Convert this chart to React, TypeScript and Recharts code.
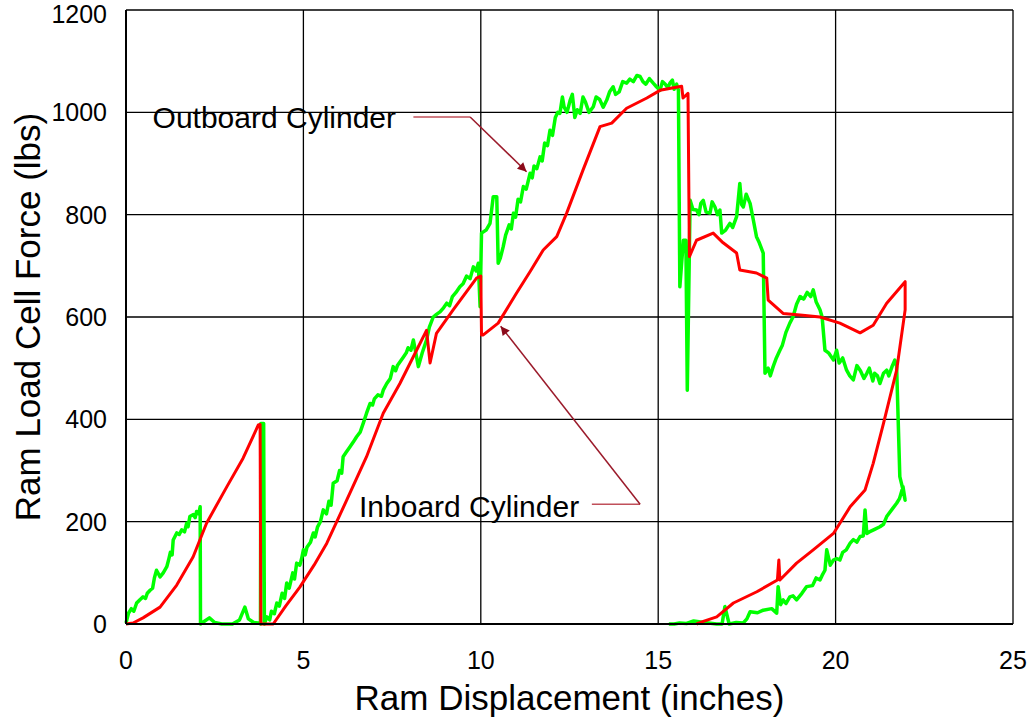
import { LineChart, Line, XAxis, YAxis, CartesianGrid, ReferenceLine, ReferenceDot, Label } from 'recharts';

const xTicks = [0, 5, 10, 15, 20, 25];
const yTicks = [0, 200, 400, 600, 800, 1000, 1200];

// Inboard cylinder (red) – [inches, lbs] traced in drawing order
const inboardPts: [number, number][] = [
  [0, 0], [0.2, 2], [0.48, 12], [0.96, 33], [1.43, 76], [1.89, 131], [2.27, 197], [2.84, 268], [3.3, 324],
  [3.73, 389], [3.78, 390], [3.8, 0], [4.15, 0], [4.5, 35], [4.9, 72], [5.3, 115], [5.66, 158], [6.22, 242],
  [6.78, 327], [7.25, 412], [7.72, 470], [8.19, 535], [8.47, 574], [8.57, 510], [8.75, 568], [9.22, 614],
  [9.88, 676], [10.0, 680], [10.02, 565], [10.07, 565], [10.49, 588], [11.0, 646], [11.4, 690], [11.76, 731],
  [12.14, 757], [12.42, 803], [12.88, 887], [13.36, 972], [13.69, 979], [14.11, 1008], [14.68, 1028],
  [15.05, 1043], [15.66, 1051], [15.7, 1028], [15.84, 1037], [15.88, 718], [16.08, 750], [16.55, 764],
  [16.83, 745], [17.21, 725], [17.3, 692], [17.77, 686], [18.06, 676], [18.1, 633], [18.52, 607], [19.0, 604],
  [19.56, 600], [20.12, 588], [20.69, 569], [21.06, 584], [21.44, 627], [21.96, 669], [21.96, 614],
  [21.72, 496], [21.35, 392], [21.06, 314], [20.83, 262], [20.41, 229], [19.94, 177], [19.37, 145],
  [18.9, 119], [18.43, 86], [18.4, 125], [18.36, 86], [17.78, 63], [17.12, 41], [16.65, 14], [16.27, 5],
  [16.08, 0],
];

// Outboard cylinder (green) – [inches, lbs] traced in drawing order
const outboardPts: [number, number][] = [
  [0, 2], [0.07, 21], [0.15, 30], [0.22, 25], [0.3, 41], [0.4, 48], [0.48, 53], [0.55, 50], [0.6, 60],
  [0.68, 66], [0.75, 70], [0.8, 90], [0.86, 105], [0.96, 92], [1.05, 100], [1.15, 112], [1.2, 125],
  [1.25, 140], [1.3, 135], [1.33, 164], [1.43, 178], [1.5, 175], [1.57, 184], [1.65, 180], [1.71, 197],
  [1.75, 190], [1.8, 210], [1.9, 214], [1.95, 208], [1.99, 220], [2.05, 215], [2.09, 229], [2.1, 0],
  [2.2, 5], [2.35, 12], [2.5, 3], [2.7, 0], [3.0, 0], [3.2, 8], [3.35, 33], [3.45, 10], [3.6, 3], [3.72, 2],
  [3.79, 0], [3.8, 392], [3.88, 392], [3.9, 0],
  [3.97, 14], [4.05, 8], [4.1, 25], [4.18, 20], [4.25, 41], [4.32, 35], [4.4, 60], [4.47, 50], [4.53, 80],
  [4.6, 70], [4.7, 100], [4.75, 88], [4.81, 119], [4.9, 115], [4.95, 128], [5.0, 145], [5.05, 135],
  [5.1, 150], [5.2, 160], [5.28, 178], [5.33, 170], [5.4, 190], [5.48, 200], [5.56, 223], [5.65, 215],
  [5.72, 240], [5.78, 232], [5.84, 275], [5.95, 280], [6.02, 300], [6.08, 295], [6.12, 327], [6.2, 335],
  [6.3, 345], [6.4, 355], [6.5, 366], [6.6, 375], [6.7, 395], [6.78, 412], [6.88, 431], [6.95, 428],
  [7.0, 440], [7.1, 448], [7.2, 445], [7.25, 457], [7.35, 470], [7.45, 480], [7.53, 503], [7.6, 495],
  [7.65, 505], [7.75, 515], [7.82, 522], [7.9, 530], [7.95, 540], [8.03, 535], [8.1, 555], [8.24, 503],
  [8.35, 530], [8.47, 555], [8.55, 580], [8.66, 600], [8.75, 605], [8.85, 610], [8.95, 618], [9.04, 627],
  [9.12, 622], [9.2, 640], [9.3, 648], [9.41, 659], [9.5, 665], [9.6, 680], [9.7, 675], [9.79, 698],
  [9.87, 690], [9.93, 705], [9.98, 620],
  [10.02, 764], [10.15, 770], [10.26, 783], [10.35, 835], [10.45, 835], [10.49, 705], [10.55, 715],
  [10.63, 737], [10.7, 760], [10.8, 780], [10.86, 772], [10.92, 803], [10.98, 795], [11.05, 830],
  [11.12, 825], [11.2, 855], [11.28, 850], [11.39, 881], [11.45, 872], [11.5, 895], [11.58, 890],
  [11.67, 913], [11.73, 905], [11.8, 940], [11.88, 935], [11.95, 965], [12.02, 955], [12.1, 990],
  [12.17, 1000], [12.23, 998], [12.3, 1030], [12.35, 1010], [12.43, 1000], [12.52, 1024], [12.58, 1035],
  [12.65, 990], [12.72, 1005], [12.8, 998], [12.88, 1030], [12.95, 1020], [13.05, 1000], [13.17, 1011],
  [13.25, 1030], [13.35, 1025], [13.45, 1010], [13.55, 1024], [13.63, 1040], [13.73, 1050], [13.8, 1035],
  [13.9, 1040], [14.0, 1060], [14.11, 1057], [14.2, 1065], [14.3, 1060], [14.4, 1072], [14.49, 1070],
  [14.57, 1060], [14.65, 1055], [14.75, 1066], [14.86, 1057], [14.95, 1050], [15.05, 1043], [15.12, 1060],
  [15.2, 1055], [15.27, 1048], [15.33, 1057], [15.4, 1063], [15.45, 1045], [15.52, 1055], [15.57, 1043],
  [15.61, 659], [15.71, 750], [15.78, 750], [15.82, 457], [15.9, 828], [15.98, 810], [16.08, 809],
  [16.15, 800], [16.2, 822], [16.27, 828], [16.35, 805], [16.46, 803], [16.52, 825], [16.6, 815],
  [16.67, 800], [16.74, 809], [16.79, 764], [16.9, 770], [17.02, 783], [17.1, 775], [17.21, 796],
  [17.3, 861], [17.35, 820], [17.4, 815], [17.48, 840], [17.59, 822], [17.68, 790], [17.77, 757],
  [17.85, 745], [17.96, 725], [18.01, 490], [18.1, 500], [18.16, 485], [18.24, 503], [18.33, 520],
  [18.43, 535], [18.5, 545], [18.6, 570], [18.71, 588], [18.8, 600], [18.9, 625], [19.0, 640], [19.1, 635],
  [19.2, 648], [19.3, 640], [19.37, 653], [19.45, 630], [19.56, 614], [19.62, 600], [19.7, 535], [19.8, 530],
  [19.94, 516], [20.03, 535], [20.1, 510], [20.2, 520], [20.31, 496], [20.4, 485], [20.5, 477], [20.6, 505],
  [20.7, 495], [20.8, 480], [20.88, 490], [20.95, 500], [21.05, 475], [21.1, 490], [21.18, 485],
  [21.25, 470], [21.35, 490], [21.44, 496], [21.5, 485], [21.6, 505], [21.67, 516], [21.72, 503],
  [21.81, 288], [21.9, 262], [21.96, 242],
  [21.9, 268], [21.8, 245], [21.72, 236], [21.6, 225], [21.44, 210], [21.35, 195], [21.25, 190],
  [21.1, 185], [20.95, 180], [20.88, 177], [20.83, 223], [20.78, 172], [20.69, 171], [20.6, 160],
  [20.5, 165], [20.41, 158], [20.3, 145], [20.2, 140], [20.12, 125], [20.03, 128], [19.94, 125],
  [19.85, 115], [19.75, 145], [19.7, 105], [19.62, 95], [19.56, 86], [19.45, 90], [19.35, 75], [19.18, 73],
  [19.05, 60], [18.9, 47], [18.8, 55], [18.71, 53], [18.6, 40], [18.52, 47], [18.45, 38], [18.38, 73],
  [18.34, 21], [18.2, 30], [17.96, 27], [17.8, 22], [17.59, 24], [17.5, 10], [17.4, 2], [17.2, 3],
  [17.0, 0], [16.88, 34], [16.8, 0], [16.65, 0], [16.3, 3], [16.0, 6], [15.8, 1], [15.6, 2], [15.45, 0],
  [15.3, 0],
];

const inboard = inboardPts.map(([x, y]) => ({ x, y }));
const outboard = outboardPts.map(([x, y]) => ({ x, y }));

const font = 'Liberation Sans, Arial, sans-serif';
const arrowColor = '#9b1b2b';

function YTitle({ viewBox }: any) {
  const cx = 27;
  const cy = viewBox.y + viewBox.height / 2;
  return (
    <text
      x={cx}
      y={cy}
      transform={`rotate(-90 ${cx} ${cy})`}
      textAnchor="middle"
      dominantBaseline="central"
      fontSize={35}
      fontFamily={font}
      fill="#000"
    >
      Ram Load Cell Force (lbs)
    </text>
  );
}

export default function App() {
  return (
    <div style={{ fontFamily: font }}>
      <style>{'body{margin:0}'}</style>
      <svg width={0} height={0} style={{ position: 'absolute' }}>
        <defs>
          <marker
            id="arrowHead"
            viewBox="0 0 10 10"
            refX="10"
            refY="5"
            markerWidth="13"
            markerHeight="9"
            markerUnits="userSpaceOnUse"
            orient="auto"
          >
            <path d="M0,0 L10,5 L0,10 z" fill="#8b0a1a" />
          </marker>
        </defs>
      </svg>
      <LineChart width={1032} height={721} margin={{ top: 10, right: 19, bottom: 0, left: 0 }}>
        <CartesianGrid stroke="#000" strokeWidth={1.3} fill="none" />
        <XAxis
          type="number"
          dataKey="x"
          domain={[0, 25]}
          ticks={xTicks}
          height={97}
          tickLine={false}
          tickSize={0}
          tickMargin={27}
          axisLine={{ stroke: '#000', strokeWidth: 2 }}
          tick={{ fill: '#000', fontSize: 25, fontFamily: font }}
        >
          <Label
            value="Ram Displacement (inches)"
            position="insideBottom"
            offset={11}
            fontSize={35}
            fontFamily={font}
            fill="#000"
          />
        </XAxis>
        <YAxis
          type="number"
          domain={[0, 1200]}
          ticks={yTicks}
          width={126}
          tickLine={false}
          tickSize={0}
          tickMargin={19}
          axisLine={{ stroke: '#000', strokeWidth: 2 }}
          tick={{ fill: '#000', fontSize: 25, fontFamily: font }}
        >
          <Label content={YTitle} />
        </YAxis>
        <Line
          data={outboard}
          dataKey="y"
          type="linear"
          stroke="#00ff00"
          strokeWidth={3.5}
          strokeLinejoin="round"
          dot={false}
          activeDot={false}
          isAnimationActive={false}
        />
        <Line
          data={inboard}
          dataKey="y"
          type="linear"
          stroke="#ff0000"
          strokeWidth={3}
          strokeLinejoin="round"
          dot={false}
          activeDot={false}
          isAnimationActive={false}
        />
        <ReferenceLine segment={[{ x: 8.1, y: 991 }, { x: 9.7, y: 991 }]} stroke="#c0505a" strokeWidth={1.5} />
        <ReferenceLine
          segment={[{ x: 9.7, y: 991 }, { x: 11.29, y: 884 }]}
          stroke={arrowColor}
          strokeWidth={1.5}
          markerEnd="url(#arrowHead)"
        />
        <ReferenceLine segment={[{ x: 13.13, y: 234 }, { x: 14.49, y: 234 }]} stroke="#c0505a" strokeWidth={1.5} />
        <ReferenceLine
          segment={[{ x: 14.49, y: 234 }, { x: 10.56, y: 582 }]}
          stroke={arrowColor}
          strokeWidth={1.5}
          markerEnd="url(#arrowHead)"
        />
        <ReferenceDot
          x={4.18}
          y={991}
          r={0}
          fill="none"
          stroke="none"
          label={{ value: 'Outboard Cylinder', position: 'center', fontSize: 30, fill: '#000', fontFamily: font }}
        />
        <ReferenceDot
          x={9.67}
          y={230}
          r={0}
          fill="none"
          stroke="none"
          label={{ value: 'Inboard Cylinder', position: 'center', fontSize: 30, fill: '#000', fontFamily: font }}
        />
      </LineChart>
    </div>
  );
}
